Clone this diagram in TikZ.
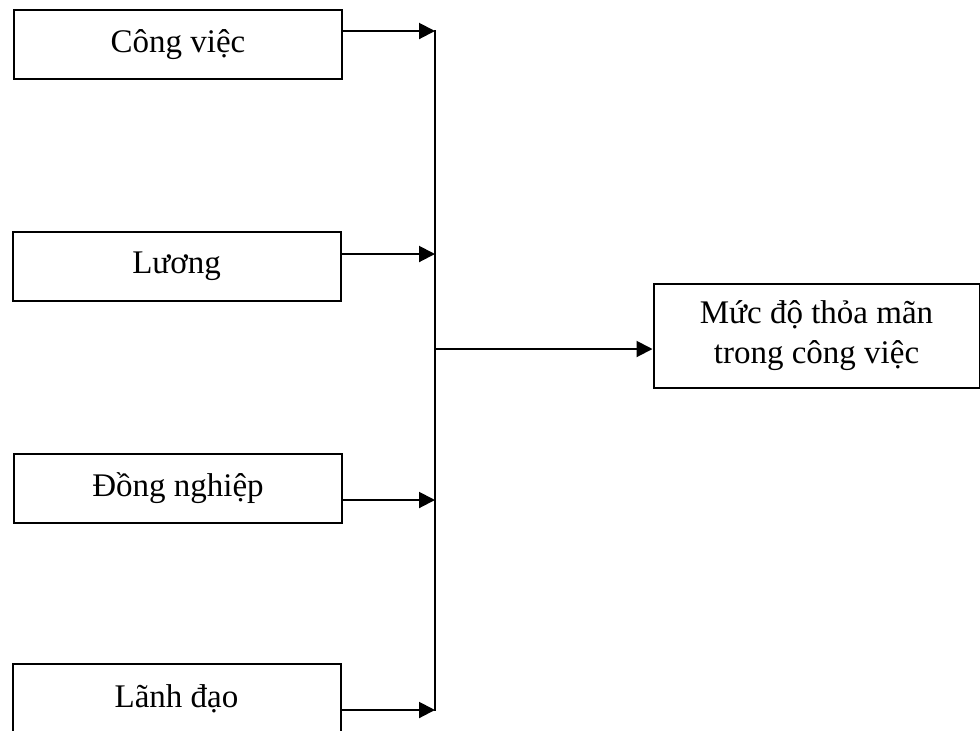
\documentclass[tikz,border=0pt]{standalone}
\usepackage{fontspec}
\setmainfont{Liberation Serif}
\usetikzlibrary{arrows.meta}
\tikzstyle{factor}=[draw,line width=1pt,minimum width=164pt,minimum height=34.5pt,inner sep=0pt]
\tikzstyle{result}=[draw,line width=1pt,minimum width=163.5pt,minimum height=52pt,inner sep=0pt,align=center]
\tikzstyle{link}=[line width=1pt,-{Triangle[length=8pt,width=8pt]}]

\begin{document}
\begin{tikzpicture}[x=0.5pt,y=-0.5pt,font=\fontsize{16.5}{20}\selectfont]
\useasboundingbox (0,0) rectangle (980,730);
\clip (0,0) rectangle (980,730);
    \node [factor] (cv) at (178,44.5) {Công việc};
    \node [factor] (luong) at (176.5,266) {Lương};
    \node [factor] (dn) at (178,488.5) {Đồng nghiệp};
    \node [factor] (ld) at (176.5,698.5) {Lãnh đạo};
    \node [result,minimum width=163pt] (kq) at (816.5,336) {Mức độ thỏa mãn\\trong công việc};
    \coordinate (b1) at (435,31);
    \coordinate (b2) at (435,254);
    \coordinate (b3) at (435,500);
    \coordinate (b4) at (435,710);
    \coordinate (b5) at (435,349);
    \draw [line width=1pt] (435,30) -- (435,711);
    \draw [link] (cv.east |- b1) -- (b1);
    \draw [link] (luong.east |- b2) -- (b2);
    \draw [link] (dn.east |- b3) -- (b3);
    \draw [link] (ld.east |- b4) -- (b4);
    \draw [link] (b5) -- (kq.west |- b5);
\end{tikzpicture}
\end{document}
